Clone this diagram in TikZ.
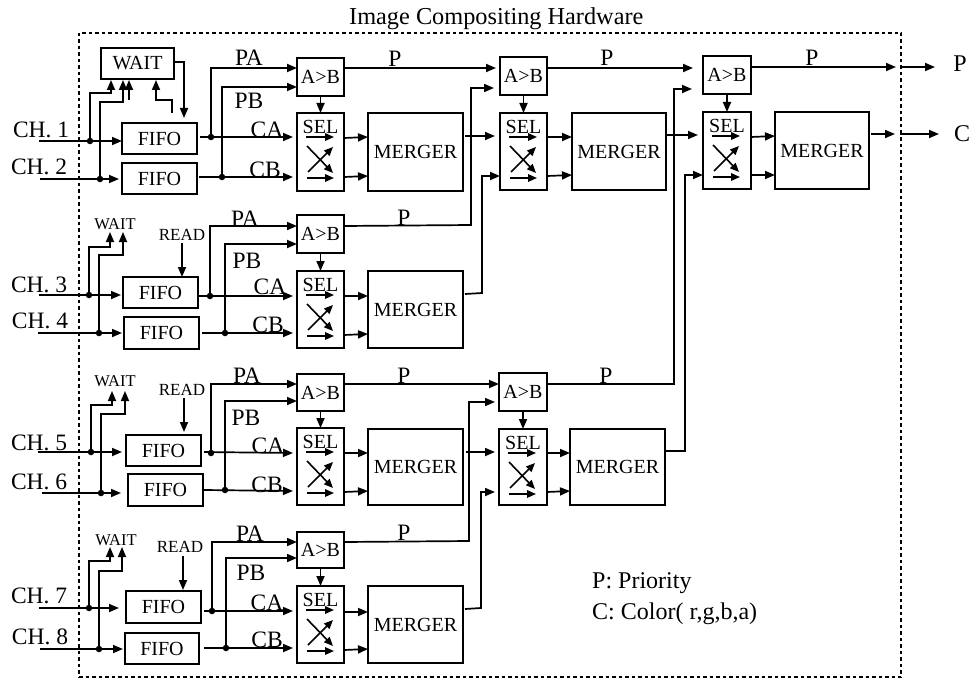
\documentclass[tikz,border=0pt]{standalone}
\usepackage{fontspec}
\setmainfont{Liberation Serif}
\usetikzlibrary{arrows.meta,calc}
\newcommand{\fs}[1]{\fontsize{#1}{#1}\selectfont}
\tikzset{
  x=1pt,y=-1pt,
  wire/.style={line width=1.7pt,line join=miter},
  arr/.style={wire,-{Triangle[length=10pt,width=8pt]}},
  sarr/.style={line width=1.6pt,-{Triangle[length=9pt,width=7.5pt]}},
  blk/.style={draw,line width=1.7pt,inner sep=0pt,outer sep=0pt,fill=white},
  dot/.style={circle,fill=black,inner sep=0pt,minimum size=6.5pt},
  lbl/.style={inner sep=0pt,outer sep=0pt,anchor=base,font=\fs{23.5}},
  chl/.style={inner sep=0pt,outer sep=0pt,anchor=base west,font=\fs{23.5}},
  wl/.style={inner sep=0pt,outer sep=0pt,anchor=base,font=\fs{16.5}},
  rl/.style={inner sep=0pt,outer sep=0pt,anchor=base,font=\fs{17}},
  hw/.style={draw,line width=1.6pt,dash pattern=on 3.5pt off 3pt,inner sep=0pt,outer sep=0pt},
}
% \bx{name}{x1}{y1}{x2}{y2}{text}
\newcommand{\bx}[6]{\node[blk,font=\fs{20},minimum width={(#4-#2)*1pt},minimum height={(#5-#3)*1pt}] (#1) at ({(#2+#4)/2},{(#3+#5)/2}) {#6};}
% \selbx{name}{x1}{y1}{x2}{y2}
\newcommand{\selbx}[5]{%
  \bx{#1}{#2}{#3}{#4}{#5}{}
  \node[inner sep=0pt,anchor=base,font=\fs{20}] (#1t) at ({(#2+#4)/2},#3+20) {SEL};
  \coordinate (#1a) at ($(#1.north west)+(9,24)$);
  \coordinate (#1b) at ($(#1.north west)+(37,24)$);
  \coordinate (#1c) at ($(#1.north west)+(10,33)$);
  \coordinate (#1d) at ($(#1.north west)+(36,60)$);
  \coordinate (#1e) at ($(#1.north west)+(11,59)$);
  \coordinate (#1f) at ($(#1.north west)+(36,34)$);
  \coordinate (#1g) at ($(#1.north west)+(10,65)$);
  \coordinate (#1h) at ($(#1.north west)+(37,65)$);
  \draw[sarr] (#1a) -- (#1b);
  \draw[sarr] (#1c) -- (#1d);
  \draw[sarr] (#1e) -- (#1f);
  \draw[sarr] (#1g) -- (#1h);
}
\begin{document}
\begin{tikzpicture}
\useasboundingbox (0,0) rectangle (971,682);
\node[hw,minimum width=822pt,minimum height=644pt] (hw) at (490,355) {};
\node[inner sep=0pt,anchor=base west,font=\fs{24.3}] (title) at (349,25) {Image Compositing Hardware};

% ---------- boxes
\bx{wait}{101}{48}{174}{79}{WAIT}
\bx{f1}{122}{123}{197}{154}{FIFO}
\bx{f2}{122}{163}{197}{194}{FIFO}
\bx{f3}{123}{277}{198}{308}{FIFO}
\bx{f4}{124}{317}{199}{349}{FIFO}
\bx{f5}{126}{435}{201}{466}{FIFO}
\bx{f6}{128}{474}{203}{506}{FIFO}
\bx{f7}{126}{591}{201}{623}{FIFO}
\bx{f8}{125}{633}{199}{664}{FIFO}

\bx{c1}{297}{58}{344}{96}{A>B}
\bx{c2}{297}{215}{344}{253}{A>B}
\bx{c3}{297}{374}{344}{411}{A>B}
\bx{c4}{297}{532}{344}{568}{A>B}
\bx{c5}{500}{57}{547}{95}{A>B}
\bx{c6}{499}{373}{547}{411}{A>B}
\bx{c7}{703}{56}{751}{94}{A>B}

\selbx{s1}{297}{113}{344}{191}
\selbx{s2}{297}{271}{344}{348}
\selbx{s3}{297}{428}{344}{505}
\selbx{s4}{297}{586}{344}{663}
\selbx{s5}{500}{113}{547}{190}
\selbx{s6}{499}{429}{547}{505}
\selbx{s7}{703}{112}{751}{189}

\bx{m1}{368}{113}{463}{191}{MERGER}
\bx{m2}{368}{271}{463}{348}{MERGER}
\bx{m3}{368}{429}{463}{505}{MERGER}
\bx{m4}{368}{586}{463}{663}{MERGER}
\bx{m5}{572}{113}{666}{190}{MERGER}
\bx{m6}{570}{429}{665}{505}{MERGER}
\bx{m7}{775}{112}{869}{189}{MERGER}

% ---------- channel labels
\node[chl] (ch1) at (13,137) {CH. 1};
\node[chl] (ch2) at (11,174) {CH. 2};
\node[chl] (ch3) at (11,292) {CH. 3};
\node[chl] (ch4) at (12,328) {CH. 4};
\node[chl] (ch5) at (11,450) {CH. 5};
\node[chl] (ch6) at (11,489) {CH. 6};
\node[chl] (ch7) at (11,603) {CH. 7};
\node[chl] (ch8) at (12,644) {CH. 8};

% ---------- input ends and junctions
\coordinate (i1) at (39,141); \coordinate (i2) at (40,179);
\coordinate (i3) at (39,295); \coordinate (i4) at (38,333);
\coordinate (i5) at (38,452); \coordinate (i6) at (42,493);
\coordinate (i7) at (39,608); \coordinate (i8) at (40,649);

\node[dot] (j1) at (90,141) {}; \node[dot] (j2) at (100,179) {};
\node[dot] (j3) at (89,295) {}; \node[dot] (j4) at (99,333) {};
\node[dot] (j5) at (91,452) {}; \node[dot] (j6) at (101,493) {};
\node[dot] (j7) at (89,608) {}; \node[dot] (j8) at (99,649) {};

\draw[arr] (i1) -- (f1.west |- i1);
\draw[arr] (i2) -- (119,179);
\draw[arr] (i3) -- (121,295);
\draw[arr] (i4) -- (122,333);
\draw[arr] (i5) -- (122,452);
\draw[arr] (i6) -- (121,493);
\draw[arr] (i7) -- (119,608);
\draw[arr] (i8) -- (123,649);

% ---------- WAIT connections, row 1
\draw[arr] (j1.center) |- (111,93) -- (111,80);
\draw[arr] (j2.center) |- (123,102) -- (123,80);
\coordinate (w3) at (129,100);
\draw[arr] (w3) -- (129,80);
\coordinate (w4) at (172,113);
\draw[arr] (w4) |- (156,100) -- (156,80);
\draw[arr] (wait.east |- 0,62) -| (184,118);

% ---------- WAIT text and arrows, other rows
\node[wl] (wt3) at (115,229) {WAIT};
\node[wl] (wt5) at (115,386) {WAIT};
\node[wl] (wt7) at (116,545) {WAIT};
\draw[arr] (j3.center) |- (110,247) -- (110,232);
\draw[arr] (j4.center) |- (123,255) -- (123,232);
\draw[arr] (j5.center) |- (112,405) -- (112,391);
\draw[arr] (j6.center) |- (125,414) -- (125,391);
\draw[arr] (j7.center) |- (110,561) -- (110,547);
\draw[arr] (j8.center) |- (122,571) -- (122,547);

% ---------- READ
\node[rl] (r3) at (182,240) {READ};
\node[rl] (r5) at (182,395) {READ};
\node[rl] (r7) at (180,552) {READ};
\draw[arr] (182,243) -- (f3.north -| 182,0);
\draw[arr] (184,398) -- (184,432);
\draw[arr] (183,556) -- (183,590);

% ---------- FIFO outputs
\node[dot] (d1) at (211,137) {}; \node[dot] (e1) at (222,177) {};
\node[dot] (d2) at (210,296) {}; \node[dot] (e2) at (225,333) {};
\node[dot] (d3) at (211,453) {}; \node[dot] (e3) at (225,490) {};
\node[dot] (d4) at (212,611) {}; \node[dot] (e4) at (226,648) {};

\draw[arr] (200,137) -- (293,137);
\draw[arr] (199,177) -- (293,177);
\draw[arr] (198,296) -- (293,296);
\draw[arr] (202,333) -- (293,333);
\draw[arr] (204,452) -- (293,453);
\draw[arr] (204,490) -- (293,491);
\draw[arr] (204,611) -- (293,611);
\draw[arr] (204,648) -- (293,648);

\draw[arr] (d1.center) |- (c1.west |- 0,68);
\draw[arr] (e1.center) |- (c1.west |- 0,87);
\draw[arr] (d2.center) |- (c2.west |- 0,226);
\draw[arr] (e2.center) |- (c2.west |- 0,244);
\draw[arr] (d3.center) |- (c3.west |- 0,384);
\draw[arr] (e3.center) |- (c3.west |- 0,401);
\draw[arr] (d4.center) |- (c4.west |- 0,542);
\draw[arr] (e4.center) |- (c4.west |- 0,558);

% ---------- comparator to selector
\draw[arr] (c1) -- (s1);
\draw[arr] (c2) -- (s2);
\draw[arr] (c3) -- (s3);
\draw[arr] (c4) -- (s4);
\draw[arr] (c5) -- (s5);
\draw[arr] (c6) -- (s6);
\draw[arr] (c7) -- (s7);

% ---------- selector to merger
\draw[arr] (s1.east |- 0,138) -- (m1.west |- 0,137);
\draw[arr] (s1.east |- 0,177) -- (m1.west |- 0,176);
\draw[arr] (s2.east |- 0,296) -- (m2.west |- 0,296);
\draw[arr] (s2.east |- 0,335) -- (m2.west |- 0,334);
\draw[arr] (s3.east |- 0,453) -- (m3.west |- 0,453);
\draw[arr] (s3.east |- 0,492) -- (m3.west |- 0,491);
\draw[arr] (s4.east |- 0,612) -- (m4.west |- 0,612);
\draw[arr] (s4.east |- 0,650) -- (m4.west |- 0,649);
\draw[arr] (s5.east |- 0,137) -- (m5.west |- 0,137);
\draw[arr] (s5.east |- 0,176) -- (m5.west |- 0,175);
\draw[arr] (s6.east |- 0,453) -- (m6.west |- 0,453);
\draw[arr] (s6.east |- 0,492) -- (m6.west |- 0,491);
\draw[arr] (s7.east |- 0,137) -- (m7.west |- 0,136);
\draw[arr] (s7.east |- 0,175) -- (m7.west |- 0,175);

% ---------- priority paths
\draw[arr] (c1.east |- 0,68) -- (496,68);
\draw[arr] (c5.east |- 0,68) -- (693,68);
\coordinate (pe) at (896,67);
\draw[arr] (c7.east |- 0,67) -- (pe);
\coordinate (po) at (900,67); \coordinate (poe) at (935,67);
\draw[arr] (po) -- (poe);
\draw[arr] (c2.east |- 0,226) -- (471,225) |- (494,88);
\draw[arr] (c6.east |- 0,384) -- (674,384) |- (692,89);
\draw[arr] (c4.east |- 0,542) -- (469,541) |- (495,402);
\draw[arr] (c3.east |- 0,384) -- (c6.west |- 0,384);

% ---------- merger outputs
\draw[arr] (465,136) -- (495,136);
\draw[arr] (465,294) -- (482,293) |- (s5.west |- 0,176);
\draw[arr] (667,135) -- (698,135);
\draw[arr] (466,452) -- (495,452);
\draw[arr] (465,609) -- (481,608) |- (495,492);
\draw[arr] (m6.east |- 0,451) -- (685,451) |- (s7.west |- 0,175);
\coordinate (ce) at (895,134);
\draw[arr] (871,134) -- (ce);
\coordinate (co) at (900,134); \coordinate (coe) at (939,134);
\draw[arr] (co) -- (coe);

% ---------- signal labels
\node[lbl] (pa1) at (249,66) {PA};  \node[lbl] (pb1) at (249,109) {PB};
\node[lbl] (ca1) at (267,137) {CA}; \node[lbl] (cb1) at (265,177) {CB};
\node[lbl] (pa2) at (245,226) {PA}; \node[lbl] (pb2) at (247,268) {PB};
\node[lbl] (ca2) at (270,294) {CA}; \node[lbl] (cb2) at (268,332) {CB};
\node[lbl] (pa3) at (247,383) {PA}; \node[lbl] (pb3) at (246,425) {PB};
\node[lbl] (ca3) at (268,453) {CA}; \node[lbl] (cb3) at (267,492) {CB};
\node[lbl] (pa4) at (250,541) {PA}; \node[lbl] (pb4) at (251,580) {PB};
\node[lbl] (ca4) at (267,610) {CA}; \node[lbl] (cb4) at (267,647) {CB};

\node[lbl] (p1) at (395,67) {P};
\node[lbl] (p2) at (607,66) {P};
\node[lbl] (p3) at (812,66) {P};
\node[lbl] (p4) at (404,225) {P};
\node[lbl] (p5) at (404,383) {P};
\node[lbl] (p6) at (606,383) {P};
\node[lbl] (p7) at (404,540) {P};

\node[lbl,font=\fs{24}] (pot) at (960,72) {P};
\node[lbl,font=\fs{24}] (cot) at (962,142) {C};

\node[inner sep=0pt,anchor=base west,font=\fs{24}] (lg1) at (592,588) {P: Priority};
\node[inner sep=0pt,anchor=base west,font=\fs{24}] (lg2) at (592,619) {C: Color( r,g,b,a)};
\end{tikzpicture}
\end{document}
